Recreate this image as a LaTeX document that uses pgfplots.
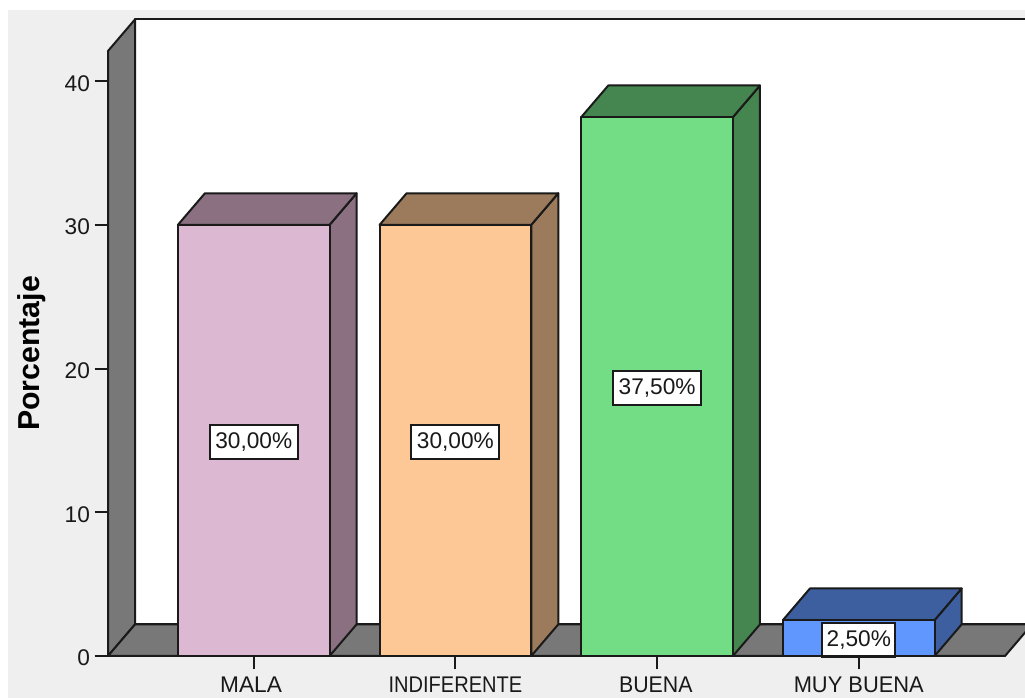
\documentclass[border=0pt]{standalone}
\usepackage{fontspec}
\setmainfont{Liberation Sans}
\usepackage{pgfplots}
\pgfplotsset{compat=1.18}
\definecolor{panelbg}{HTML}{EFEFEF}
\definecolor{wall}{HTML}{787878}
\definecolor{inkline}{HTML}{1A1A1A}
\definecolor{pinkF}{HTML}{DDB8D3}
\definecolor{pinkS}{HTML}{8A7080}
\definecolor{orangeF}{HTML}{FDC895}
\definecolor{orangeS}{HTML}{9C7B5C}
\definecolor{greenF}{HTML}{72DD85}
\definecolor{greenS}{HTML}{458650}
\definecolor{blueF}{HTML}{5F97FF}
\definecolor{blueS}{HTML}{3D5F9F}
\tikzset{bar label/.style={draw=inkline, line width=1.5pt, fill=white, inner sep=0pt,
    minimum height=25.5pt, yshift=-1.2pt, font=\fontsize{17}{20}\selectfont, text=black!90},
  edge/.style={draw=inkline, line width=1.5pt, line join=round}}
\begin{document}
\begin{tikzpicture}[x=0.75pt,y=0.75pt]
\path[use as bounding box] (0,0) rectangle (1025,698);
\clip (0,0) rectangle (1025,698);
\fill[panelbg] (8,0) rectangle (1025,688);
\begin{axis}[
  at={(81pt,31.5pt)}, anchor=south west,
  scale only axis, width=672.75pt, height=453.75pt,
  xmin=-0.7226, xmax=3.725, ymin=0, ymax=42.1,
  clip=false, axis on top,
  axis lines=left,
  axis line style={-, inkline, line width=2pt},
  tick style={inkline, line width=1.4pt},
  tick align=outside,
  major tick length=10pt,
  xtick={0,1,2,3},
  xticklabels={\hspace{-4pt}MALA,\scalebox{0.885}[1]{INDIFERENTE},\hspace{-2pt}\scalebox{0.94}[1]{BUENA},\scalebox{0.965}[1]{MUY BUENA}},
  ytick={0,10,20,30,40},
  tick label style={font=\fontsize{17}{20}\selectfont, text=black!90},
  xticklabel style={yshift=-2pt},
  yticklabel style={yshift=-1.6pt},
  /pgf/number format/assume math mode=true,
  ylabel={Porcentaje},
  every axis y label/.style={at={(axis description cs:-0.0847,0.5)}, rotate=90, anchor=center,
    font=\fontsize{22.7}{26}\selectfont\bfseries},
]
% back wall, side wall and floor of the box
\addplot[fill=white, edge] coordinates {(-0.5886,2.2) (-0.5886,44.3) (3.95,44.3) (3.95,2.2)} --cycle;
\addplot[fill=wall, edge] coordinates {(-0.7226,0) (-0.5886,2.2) (-0.5886,44.3) (-0.7226,42.1)} --cycle;
\addplot[fill=wall, edge] coordinates {(-0.7226,0) (-0.5886,2.2) (3.859,2.2) (3.725,0)} --cycle;

% MALA, 30.0
\addplot[fill=pinkS, edge] coordinates {(0.376,0) (0.51,2.2) (0.51,32.2) (0.376,30)} --cycle;
\addplot[fill=pinkS, edge] coordinates {(-0.376,30) (-0.242,32.2) (0.51,32.2) (0.376,30)} --cycle;
\addplot[ybar, bar width=0.752, bar shift=0pt, fill=pinkF, edge] coordinates {(0,30)};

% INDIFERENTE, 30.0
\addplot[fill=orangeS, edge] coordinates {(1.376,0) (1.51,2.2) (1.51,32.2) (1.376,30)} --cycle;
\addplot[fill=orangeS, edge] coordinates {(0.624,30) (0.758,32.2) (1.51,32.2) (1.376,30)} --cycle;
\addplot[ybar, bar width=0.752, bar shift=0pt, fill=orangeF, edge] coordinates {(1,30)};

% BUENA, 37.5
\addplot[fill=greenS, edge] coordinates {(2.376,0) (2.51,2.2) (2.51,39.7) (2.376,37.5)} --cycle;
\addplot[fill=greenS, edge] coordinates {(1.624,37.5) (1.758,39.7) (2.51,39.7) (2.376,37.5)} --cycle;
\addplot[ybar, bar width=0.752, bar shift=0pt, fill=greenF, edge] coordinates {(2,37.5)};

% MUY BUENA, 2.5
\addplot[fill=blueS, edge] coordinates {(3.376,0) (3.51,2.2) (3.51,4.7) (3.376,2.5)} --cycle;
\addplot[fill=blueS, edge] coordinates {(2.624,2.5) (2.758,4.7) (3.51,4.7) (3.376,2.5)} --cycle;
\addplot[ybar, bar width=0.752, bar shift=0pt, fill=blueF, edge] coordinates {(3,2.5)};

% value labels at half of each bar's height
\node[bar label, minimum width=66pt] at (axis cs:0,15) {30,00\%};
\node[bar label, minimum width=66pt] at (axis cs:1,15) {30,00\%};
\node[bar label, minimum width=66pt] at (axis cs:2,18.75) {37,50\%};
\node[bar label, minimum width=55pt] at (axis cs:3,1.25) {2,50\%};
\end{axis}
\end{tikzpicture}
\end{document}
